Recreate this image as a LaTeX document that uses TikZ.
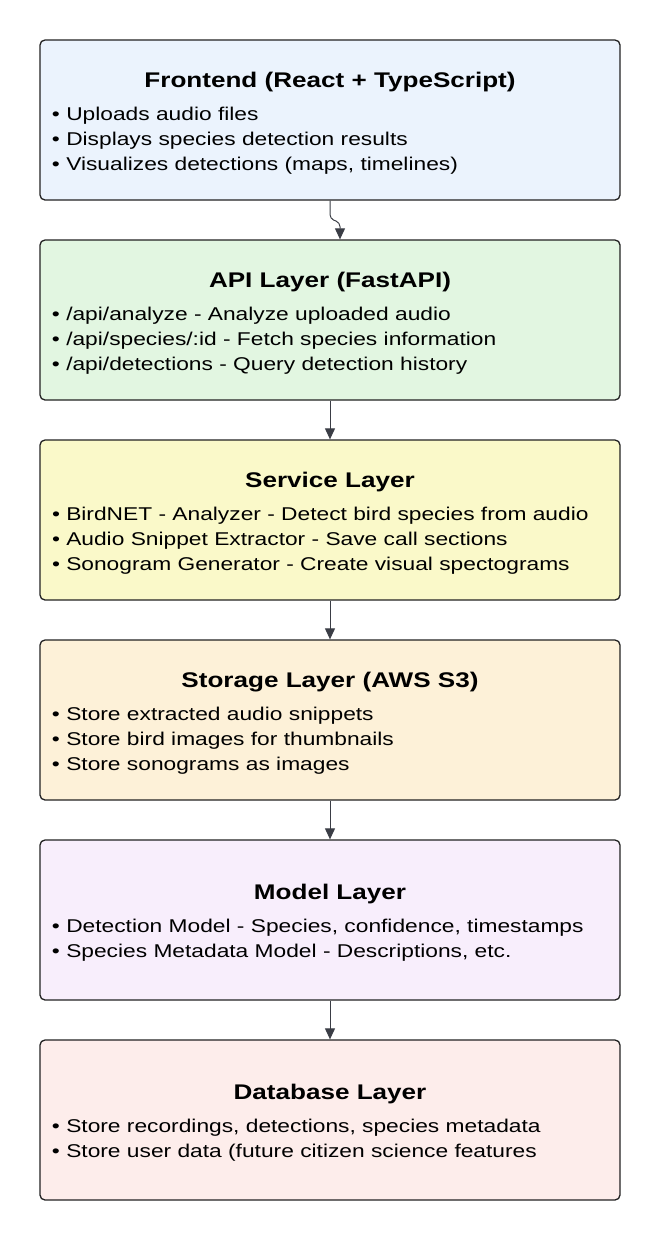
\documentclass[tikz,border=0pt]{standalone}
\usepackage{fontspec}
\setmainfont[FakeStretch=1.23]{Liberation Sans}
\usetikzlibrary{arrows.meta}

\definecolor{feblue}{HTML}{EBF3FD}
\definecolor{apigreen}{HTML}{E2F6E1}
\definecolor{svcyellow}{HTML}{FAF9C9}
\definecolor{stoorange}{HTML}{FDF1D8}
\definecolor{mdlviolet}{HTML}{F8EEFC}
\definecolor{dbred}{HTML}{FDEDEB}
\definecolor{edge}{HTML}{222222}
\definecolor{arrowgrey}{HTML}{3A3D45}

\newcommand{\layertitle}[1]{\makebox[556pt]{\rule{0pt}{21pt}\fontsize{21.2}{25}\selectfont\bfseries #1}}

\begin{document}
\begin{tikzpicture}[x=1pt,y=1pt,
	layer/.style={draw=edge, line width=1.3pt, rounded corners=5pt,
		minimum width=580pt, minimum height=160pt,
		align=left, inner sep=0pt, font=\fontsize{18.5}{25}\selectfont},
	arr/.style={draw=arrowgrey, line width=1pt,
		-{Triangle[length=11pt,width=10pt]}}]
	\useasboundingbox (0,0) rectangle (660,-1240);

	\node[layer, fill=feblue] (fe) at (330,-120)
	{\layertitle{Frontend (React + TypeScript)}\\[8pt]
	 • Uploads audio files\\
	 • Displays species detection results\\
	 • Visualizes detections (maps, timelines)};
	\node[layer, fill=apigreen] (api) at (330,-320)
	{\layertitle{API Layer (FastAPI)}\\[8pt]
	 • /api/analyze - Analyze uploaded audio\\
	 • /api/species/:id - Fetch species information\\
	 • /api/detections - Query detection history};
	\node[layer, fill=svcyellow] (svc) at (330,-520)
	{\layertitle{Service Layer}\\[8pt]
	 • BirdNET - Analyzer - Detect bird species from audio\\
	 • Audio Snippet Extractor - Save call sections\\
	 • Sonogram Generator - Create visual spectograms};
	\node[layer, fill=stoorange] (sto) at (330,-720)
	{\layertitle{Storage Layer (AWS S3)}\\[8pt]
	 • Store extracted audio snippets\\
	 • Store bird images for thumbnails\\
	 • Store sonograms as images};
	\node[layer, fill=mdlviolet] (mdl) at (330,-920)
	{\layertitle{Model Layer}\\[8pt]
	 • Detection Model - Species, confidence, timestamps\\
	 • Species Metadata Model - Descriptions, etc.};
	\node[layer, fill=dbred] (db) at (330,-1120)
	{\layertitle{Database Layer}\\[8pt]
	 • Store recordings, detections, species metadata\\
	 • Store user data (future citizen science features};

	% connectors
	\draw[arr, rounded corners=4pt] (fe.south) -- ++(0,-18) -- ++(10,-4)
	-- ([xshift=10pt]api.north);
	\draw[arr] (api) -- (svc);
	\draw[arr] (svc) -- (sto);
	\draw[arr] (sto) -- (mdl);
	\draw[arr] (mdl) -- (db);
\end{tikzpicture}
\end{document}
